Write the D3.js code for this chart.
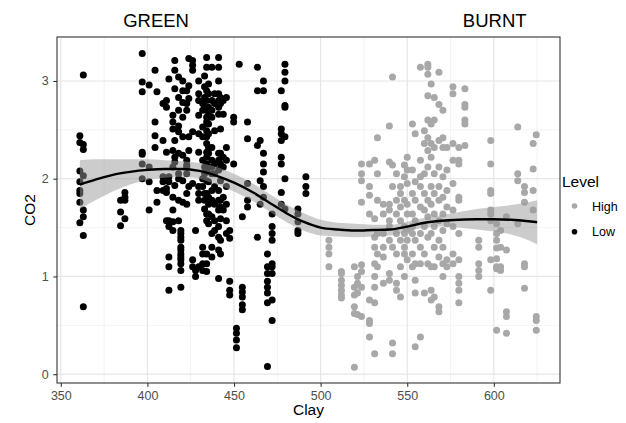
<!DOCTYPE html>
<html>
<head>
<meta charset="utf-8">
<script src="https://cdn.jsdelivr.net/npm/d3@7"></script>
<style>
  body { margin: 0; background: #fff; }
  text { font-family: "Liberation Sans", Arial, Helvetica, sans-serif; }
</style>
</head>
<body>
<svg id="chart" width="626" height="423"></svg>
<script>
// tick labels
var xTicks = [350, 400, 450, 500, 550, 600],
    yTicks = [0, 1, 2, 3];

// Low (GREEN) points, grouped by clay column: [clay, [co2...]]
var lowCols = [
  [361, [2.44,2.37,2.08,1.97,1.88,1.85,1.76,1.55]],
  [363, [3.06,2.35,2.30,2.03,1.68,1.61,1.42,0.69]],
  [384.5, [1.78,1.66,1.52]],
  [387, [1.86,1.81,1.78,1.59]],
  [397, [3.28,2.99,2.89,2.27,2.25,2.15,2.00]],
  [401, [2.96,2.12,1.97,1.68]],
  [404.4, [3.11,2.58,2.44,2.32]],
  [405.5, [2.89,1.88,1.76]],
  [409, [2.77,2.39,2.02,1.97,1.88]],
  [411, [2.80,2.73,2.27,1.90,1.86,1.57]],
  [412.4, [3.02,2.02,1.97,1.57,1.51,1.20,1.10,0.86]],
  [414.7, [2.65,2.58,2.51,2.29,2.12,1.81,1.68,1.56,1.47]],
  [415.8, [3.21,3.11,2.92,2.39,2.22,2.17,1.93]],
  [418, [3.04,2.83,2.70,2.54,2.48,2.26,2.05,2.00,1.78,1.57]],
  [419.3, [1.47,1.44,1.40,1.37,1.30,1.27,1.23,1.20,1.17,1.13,1.06,0.89]],
  [420.4, [3.00,2.90,2.78,2.63,2.43,2.24,1.98,1.76]],
  [422.7, [2.90,2.77,2.70,2.19,2.14,2.12,2.05,1.85,1.74]],
  [423.9, [3.23,2.95,2.82,2.43,2.29,1.92]],
  [426.1, [3.21,3.16,3.11,2.48,1.95,1.17,1.10]],
  [427.8, [1.47,1.06,1.00]],
  [429.6, [3.00,2.87,2.80,2.65,2.46,2.27,1.92,1.85,1.78,1.10]],
  [431.9, [2.77,2.70,2.53,2.43,2.19,2.00,1.92,1.30,1.23,1.13,1.06]],
  [433, [3.05,2.94,2.83,2.73,2.12,2.05,1.85,1.78,1.69]],
  [434.2, [3.24,3.14,2.90,2.80,2.70,2.63,2.58,2.49,2.43,2.36,2.27,2.22,2.15,2.09,1.98,1.85,1.64,1.57,1.23,1.13,1.05]],
  [435.3, [2.97,2.87,2.73,2.65,2.56,2.46,2.32,2.26,1.97,1.81,1.74,1.64,1.54]],
  [437.2, [3.14,2.80,2.70,2.63,2.32,2.19,2.12,2.05,1.88,1.78,1.61,1.44,1.30,1.20]],
  [438.8, [2.87,2.77,2.49,2.15,2.05,1.92,1.74,1.57,1.47]],
  [441.1, [3.24,3.14,3.00,2.87,2.80,2.73,2.66,2.26,2.19,2.09,1.88,1.78,1.68,1.51,1.40,1.27,0.98]],
  [442.2, [2.83,2.77,2.51,2.26,2.15,1.98,1.78,1.71,1.59,1.37,1.23]],
  [443.8, [2.80,2.66,2.22,2.12,1.81,1.68]],
  [445.6, [2.83,2.32,2.19,1.92,1.74,1.57,1.44]],
  [447.5, [1.47,1.39,0.95,0.86,0.81]],
  [449.8, [2.63,2.58,2.15]],
  [451.4, [0.47,0.42,0.35,0.27]],
  [453, [3.17]],
  [454.8, [1.61,0.89,0.84,0.79,0.71,0.66]],
  [457.8, [2.58,2.41,1.95,1.78,1.71]],
  [463.5, [3.14,2.90,2.34,1.40]],
  [465.1, [2.39,1.98,1.74]],
  [467, [3.00,2.90,2.26,2.15,2.07,1.92,1.81]],
  [469.3, [1.23,1.10,1.03,0.95,0.89,0.83,0.73,0.08]],
  [472, [1.64,1.51,1.44,1.37,1.13,1.10,1.03,0.76,0.55]],
  [477.3, [2.90,2.51,2.46,2.39,2.22,2.15,1.86,1.74]],
  [479.4, [3.17,3.09,3.00,2.75,2.73,2.43,2.00,1.69]],
  [486.9, [1.69,1.64,1.56,1.47,1.44]],
  [491.5, [2.02,1.92,1.85]]
];

// High (BURNT) points, grouped the same way
var highCols = [
  [504.8, [1.37,1.30,1.23,1.10]],
  [512, [1.05,1.03,0.96,0.91,0.86,0.81,0.78]],
  [519.5, [1.10,0.89,0.81,0.69,0.62,0.07]],
  [521.3, [1.00,0.93,0.83,0.61]],
  [523.6, [2.15,2.05,1.98,1.76,1.12,1.05,0.89,0.59]],
  [528.2, [2.15,1.92,1.83,1.64,0.76,0.55,0.52,0.38]],
  [531.2, [2.19,1.59,1.40,1.30,1.13,1.00,0.89,0.73,0.21]],
  [532.8, [2.42,2.05,1.78,1.44,1.23,1.10]],
  [536.2, [1.74,1.64,1.44,1.30,1.20,0.93]],
  [539.7, [2.54,2.17,1.74,1.68,1.57,1.51,1.37,1.03,0.96]],
  [541.5, [3.04,2.14,1.92,1.30,0.32,0.21]],
  [543.8, [2.05,1.78,1.64,1.44,1.23,0.93,0.86]],
  [546.1, [1.92,1.85,1.71,1.57,1.37,1.10,0.79]],
  [548.4, [2.14,2.02,1.78,1.51,1.44,1.30,1.23,1.00]],
  [550, [2.22,2.09,1.95,1.74,1.64,1.47,1.37,1.17]],
  [553, [2.56,2.09,1.85,1.64,1.51,1.44,1.23,1.10]],
  [554.6, [2.46,1.97,1.78,1.57,1.37,1.13,0.96,0.83,0.28]],
  [557.6, [3.14,2.19,2.02,1.92,1.71,1.44,1.30,1.13,0.38]],
  [559.9, [2.49,2.36,2.05,1.85,1.68,1.51,1.23,0.83]],
  [561.9, [3.17,3.14,3.07,2.85,2.60,2.42,2.29,2.12,1.78,1.61,1.40,1.13]],
  [563.8, [2.97,2.56,2.36,2.22,1.92,1.74,1.44,1.10,0.86,0.76]],
  [565.6, [2.83,2.60,2.32,2.05,1.85,1.64,1.51,1.30,1.10,0.79]],
  [568.3, [3.09,2.76,2.39,2.12,1.92,1.78,1.57,1.37,1.20,0.69,0.64]],
  [570.6, [2.70,2.42,2.32,2.02,1.81,1.64,1.47,1.30,1.13,1.00]],
  [572.9, [2.32,2.09,1.88,1.71,1.54,1.17,1.10]],
  [576.4, [2.94,2.87,2.36,2.19,1.95,1.68,1.51,1.23,1.13]],
  [579.8, [2.32,2.19,2.15,1.81,1.78,1.44,1.17,1.00,0.93,0.86,0.73]],
  [583.3, [2.92,2.76,2.73,2.60,2.56,2.34]],
  [591.3, [1.37,1.30,1.13,1.06,1.00]],
  [598.2, [2.39,2.15,1.88,1.85,1.68,1.64,1.57,1.17,0.86]],
  [601.6, [1.54,1.44,1.37,1.29,1.18,1.10,1.08,0.45]],
  [603.9, [1.47,1.30,1.10,1.06]],
  [607.3, [1.61,1.27,0.64,0.59,0.42]],
  [613.8, [2.53,2.05,1.98,1.54]],
  [617.7, [1.92,1.86,1.76,1.13,1.10,0.88]],
  [622.7, [2.36,2.10,1.88,1.68]],
  [624.5, [2.45,0.59,0.55,0.45]]
];

// loess smooth with its confidence band
var smoothClay  = [361, 370, 380, 390, 400, 410, 420, 430, 440, 450, 460, 470, 480, 490, 500, 510, 520, 530, 540, 550, 560, 570, 580, 590, 600, 610, 620, 625];
var smoothFit   = [1.94,1.99,2.04,2.07,2.09,2.10,2.10,2.08,2.03,1.96,1.87,1.76,1.65,1.56,1.50,1.48,1.47,1.475,1.48,1.51,1.55,1.57,1.58,1.585,1.585,1.58,1.565,1.555];
var smoothUpper = [2.19,2.20,2.20,2.20,2.20,2.19,2.18,2.16,2.12,2.05,1.96,1.85,1.74,1.65,1.58,1.55,1.54,1.53,1.53,1.56,1.60,1.63,1.66,1.69,1.71,1.73,1.76,1.78];
var smoothLower = [1.69,1.78,1.87,1.94,1.99,2.01,2.02,2.00,1.94,1.87,1.78,1.67,1.56,1.47,1.42,1.41,1.40,1.41,1.42,1.46,1.50,1.51,1.50,1.48,1.46,1.43,1.37,1.33];

var levels = ["High", "Low"],
    levelColors = ["#a8a8a8", "#000000"];

(function(){
    var left = 57, right = 560, top = 37, bottom = 383;
    var svg = d3.select("#chart");

    var x = d3.scaleLinear().domain([347.8, 638.2]).range([left, right]);
    var y = d3.scaleLinear().domain([-0.09, 3.45]).range([bottom, top]);
    var color = d3.scaleOrdinal().domain(levels).range(levelColors);

    // grid
    var grid = svg.append("g");
    grid.selectAll("line.xminor")
        .data(xTicks.map(function(d){ return d + 25; }).filter(function(d){ return d < 638; }))
        .enter().append("line")
        .attr("x1", x).attr("x2", x).attr("y1", top).attr("y2", bottom)
        .attr("stroke", "#ebebeb").attr("stroke-width", 0.6);
    grid.selectAll("line.yminor")
        .data([0.5, 1.5, 2.5])
        .enter().append("line")
        .attr("x1", left).attr("x2", right).attr("y1", y).attr("y2", y)
        .attr("stroke", "#ebebeb").attr("stroke-width", 0.6);
    grid.selectAll("line.xmajor")
        .data(xTicks)
        .enter().append("line")
        .attr("x1", x).attr("x2", x).attr("y1", top).attr("y2", bottom)
        .attr("stroke", "#e6e6e6").attr("stroke-width", 1.2);
    grid.selectAll("line.ymajor")
        .data(yTicks)
        .enter().append("line")
        .attr("x1", left).attr("x2", right).attr("y1", y).attr("y2", y)
        .attr("stroke", "#e6e6e6").attr("stroke-width", 1.2);

    // points
    function flatten(cols, level){
        var out = [];
        cols.forEach(function(c){
            c[1].forEach(function(v){ out.push({clay: c[0], co2: v, level: level}); });
        });
        return out;
    }
    var pts = flatten(highCols, "High").concat(flatten(lowCols, "Low"));

    svg.append("g").selectAll("circle")
        .data(pts)
        .enter().append("circle")
        .attr("cx", function(d){ return x(d.clay); })
        .attr("cy", function(d){ return y(d.co2); })
        .attr("r", 3.5)
        .attr("fill", function(d){ return color(d.level); });

    // smooth band + line
    var smooth = smoothClay.map(function(c, i){
        return {clay: c, fit: smoothFit[i], lo: smoothLower[i], hi: smoothUpper[i]};
    });
    svg.append("path")
        .datum(smooth)
        .attr("d", d3.area()
            .curve(d3.curveMonotoneX)
            .x(function(d){ return x(d.clay); })
            .y0(function(d){ return y(d.lo); })
            .y1(function(d){ return y(d.hi); }))
        .attr("fill", "#999999")
        .attr("fill-opacity", 0.5);
    svg.append("path")
        .datum(smooth)
        .attr("d", d3.line()
            .curve(d3.curveMonotoneX)
            .x(function(d){ return x(d.clay); })
            .y(function(d){ return y(d.fit); }))
        .attr("fill", "none")
        .attr("stroke", "#000")
        .attr("stroke-width", 2.4);

    // panel border
    svg.append("rect")
        .attr("x", left).attr("y", top)
        .attr("width", right - left).attr("height", bottom - top)
        .attr("fill", "none").attr("stroke", "#333").attr("stroke-width", 1.1);

    // axes
    var xAxis = svg.append("g")
        .attr("transform", "translate(0," + bottom + ")")
        .call(d3.axisBottom(x).tickValues(xTicks).tickFormat(d3.format("d")).tickSize(3.7).tickPadding(4));
    var yAxis = svg.append("g")
        .attr("transform", "translate(" + left + ",0)")
        .call(d3.axisLeft(y).tickValues(yTicks).tickFormat(d3.format("d")).tickSize(3.7).tickPadding(4.5));
    [xAxis, yAxis].forEach(function(a){
        a.select(".domain").remove();
        a.selectAll(".tick line").attr("stroke", "#333").attr("stroke-width", 1.1);
        a.selectAll(".tick text")
            .attr("fill", "#4d4d4d")
            .style("font-size", "12.5px")
            .style("font-family", "'Liberation Sans', Arial, sans-serif");
    });

    // axis titles
    svg.append("text")
        .attr("x", (left + right) / 2).attr("y", 415)
        .attr("text-anchor", "middle")
        .style("font-size", "15.5px")
        .text("Clay");
    svg.append("text")
        .attr("transform", "translate(35," + ((top + bottom) / 2) + ") rotate(-90)")
        .attr("text-anchor", "middle")
        .style("font-size", "15.5px")
        .text("CO2");

    // group labels
    svg.append("text")
        .attr("x", x(405)).attr("y", 26.5)
        .attr("text-anchor", "middle")
        .style("font-size", "18.5px")
        .text("GREEN");
    svg.append("text")
        .attr("x", x(600.5)).attr("y", 26.5)
        .attr("text-anchor", "middle")
        .style("font-size", "18.5px")
        .text("BURNT");

    // legend
    var legend = svg.append("g");
    legend.append("text")
        .attr("x", 562).attr("y", 187)
        .style("font-size", "15.5px")
        .text("Level");
    var keys = legend.selectAll("g.key")
        .data(levels)
        .enter().append("g")
        .attr("transform", function(d, i){ return "translate(0," + (206 + i * 25.7) + ")"; });
    keys.append("circle")
        .attr("cx", 574.5).attr("cy", 0).attr("r", 2.8)
        .attr("fill", function(d){ return color(d); });
    keys.append("text")
        .attr("x", 592).attr("y", 4.6)
        .style("font-size", "12.5px")
        .text(function(d){ return d; });
})();
</script>
</body>
</html>
